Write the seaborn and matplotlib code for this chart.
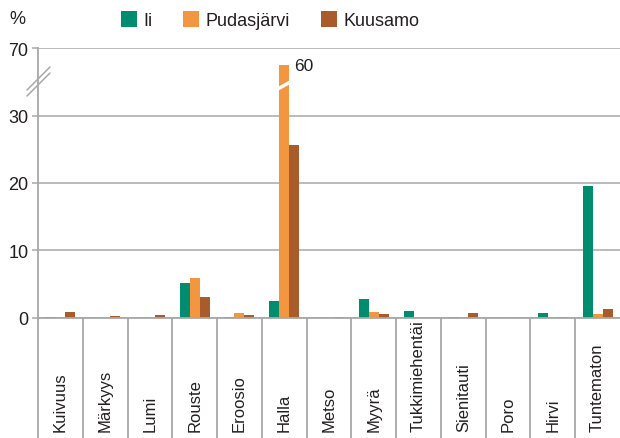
import numpy as np
import pandas as pd
import matplotlib
matplotlib.use('Agg')
import matplotlib.pyplot as plt
import matplotlib.transforms as mtransforms
import seaborn as sns

# Tuhon aiheuttajat (%)
categories = ['Kuivuus', 'Märkyys', 'Lumi', 'Rouste', 'Eroosio', 'Halla', 'Metso',
              'Myyrä', 'Tukkimiehentäi', 'Sienitauti', 'Poro', 'Hirvi', 'Tuntematon']
ii = [0.1, 0.0, 0.0, 5.1, 0.1, 2.5, 0.0, 2.8, 1.05, 0.1, 0.0, 0.7, 19.5]
pudasjarvi = [0.1, 0.0, 0.0, 5.9, 0.65, 60.0, 0.0, 0.8, 0.0, 0.0, 0.05, 0.1, 0.5]
kuusamo = [0.8, 0.3, 0.35, 3.0, 0.35, 25.7, 0.1, 0.5, 0.0, 0.75, 0.0, 0.1, 1.3]
series_names = ['Ii', 'Pudasjärvi', 'Kuusamo']
colors = ['#008C6E', '#F39640', '#A85B2B']
y_ticks = [0, 10, 20, 30, 70]
axis_break = 30      # above this the axis is compressed
label_value = 60     # value written next to the tall bar

df = pd.DataFrame({
    'Luokka': categories * 3,
    'Kunta': [s for s in series_names for _ in categories],
    'Osuus': ii + pudasjarvi + kuusamo,
})

sns.set_style('ticks')
plt.rcParams['font.family'] = ['Liberation Sans', 'DejaVu Sans']
plt.rcParams['text.color'] = '#231f20'
plt.rcParams['xtick.color'] = '#231f20'
plt.rcParams['ytick.color'] = '#231f20'


def forward(v):
    v = np.asarray(v, dtype=float)
    return np.where(v <= axis_break, v, axis_break + (v - axis_break) / 4)


def inverse(t):
    t = np.asarray(t, dtype=float)
    return np.where(t <= axis_break, t, axis_break + (t - axis_break) * 4)


fig = plt.figure(figsize=(6.2, 4.39), dpi=100)
ax = fig.add_axes([38 / 620, 1 - 318.7 / 439, 1 - 38 / 620, (318.7 - 49.3) / 439])
ax.set_yscale('function', functions=(forward, inverse))

sns.barplot(data=df, x='Luokka', y='Osuus', hue='Kunta', hue_order=series_names,
            palette=colors, saturation=1, width=0.67, linewidth=0, ax=ax)

ax.set_ylim(0, 70)
ax.set_xlim(-0.5, 12.5)
ax.set_yticks(y_ticks)
ax.set_yticklabels([str(t) for t in y_ticks])
ax.yaxis.set_minor_locator(matplotlib.ticker.NullLocator())
ax.set_xlabel('')
ax.set_ylabel('')

grey = '#a8a8a8'
ax.yaxis.grid(True, color='#b5b5b5', linewidth=1.3)
ax.set_axisbelow(True)
for side in ['top', 'right']:
    ax.spines[side].set_visible(False)
for side in ['left', 'bottom']:
    ax.spines[side].set_color(grey)
    ax.spines[side].set_linewidth(1.3)

ax.tick_params(axis='y', which='major', left=True, length=4.3, width=1.1, color=grey,
               labelsize=13, pad=2.5)
# category dividers below the axis
ax.set_xticks(np.arange(-0.5, 12), minor=True)
ax.tick_params(axis='x', which='minor', bottom=True, length=86.4, width=1.3, color=grey)
ax.tick_params(axis='x', which='major', length=0, labelsize=12, labelrotation=90, pad=81.5)
for lab in ax.get_xticklabels():
    lab.set_va('bottom')
    lab.set_ha('center')

# break marks on the y axis
base = mtransforms.blended_transform_factory(ax.transAxes, ax.transData)
anchor = mtransforms.Affine2D() + mtransforms.ScaledTranslation(0, 50, base)
for dy in (-3, 3):
    ax.plot([-11, 12], [-11 + dy, 12 + dy], color=grey, lw=1.1,
            transform=anchor, clip_on=False)

# break on the tall bar
bar_anchor = mtransforms.Affine2D() + mtransforms.ScaledTranslation(5, 48, ax.transData)
ax.plot([-8, 8], [-4.5, 4.5], color='white', lw=2.5, transform=bar_anchor,
        clip_on=False, solid_capstyle='butt')

ax.annotate(str(label_value), xy=(5, label_value), xytext=(7, 0), textcoords='offset points',
            ha='left', va='center', fontsize=12.5)

fig.text(9 / 620, 1 - 20 / 439, '%', ha='left', va='center', fontsize=13)

sns.move_legend(ax, 'center', bbox_to_anchor=((270 - 38) / 582, (318.7 - 21) / 269.4),
                ncol=3, frameon=False, title=None, fontsize=13,
                handlelength=0.9, handleheight=1.05, handletextpad=0.35,
                columnspacing=1.7)

fig.savefig('out.png', dpi=100)
